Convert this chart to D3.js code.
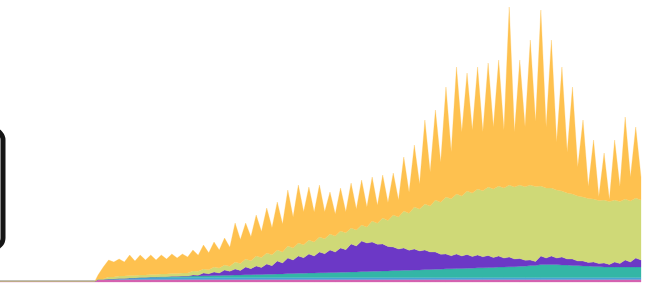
<!DOCTYPE html>
<html>
<head>
<meta charset="utf-8">
<script src="https://cdn.jsdelivr.net/npm/d3@7"></script>
<style>
	body { margin: 0; background: #fff; overflow: hidden; }
	svg { display: block; filter: blur(0.6px); }
</style>
</head>
<body>
<div id="chart"></div>
<script>

// weekly series, one value per week; orange and purple also have a mid-week (weekend) value
var weekIndex = d3.range(52)
var leadWeeks = [-9.3, -0.3]
var leadPink = 0.8

var pink = [2.5,2.5,2.5,2.5,2.5,2.5,2.5,2.5,2.5,2.5,2.5,2.5,2.5,2.5,2.5,2.5,2.5,2.5,2.5,2.5,2.5,2.5,2.5,2.5,2.5,2.5,
	2.5,2.5,2.5,2.5,2.5,2.5,2.5,2.5,2.5,2.5,2.5,2.5,2.5,2.5,2.5,2.5,2.5,2.5,2.5,2.5,2.5,2.5,2.5,2.5,2.5,2.5]
var blue = [0,0.5,1,1.5,2,2,2,2,2,2,2,2,2,2,2,2,2,2,2,2,2,2,2,2,2,2,
	2,2,2,2,2,2,2,2,2,2,2,2,2,2,2,2,2,2,2,2,2,2,2,2,2,2]
var teal = [0,0,0,0,0,0.5,0.8,1,1.2,1.5,1.7,2,2.2,2.5,2.8,3,3.3,3.6,4,4.3,4.5,4.8,5,5.3,5.6,6,
	6.3,6.6,7,7.3,7.6,8,8.3,8.7,9,9.3,9.7,10,10.4,10.8,11.3,12,13,13,12.5,12,11.5,11,10.5,10.5,10.5,10.5]
var purple = [0,0,0,0,0,0,0,0.2,0.3,1,2.8,3.5,5.3,6,7.7,8.5,10.2,12.9,15.5,17.2,19,20.7,22.5,24.2,27.9,30.5,
	29.2,26.9,23.5,22.2,20.9,19.5,17.2,14.8,14.5,13.7,12.8,12,11.1,9.7,7.7,5.5,8.5,8.5,8,6.5,5,4.5,4,5,7,9]
var purpleLow = [0,0,0,0,0,0,0,0.2,0.3,0.8,2,2.5,4,4.5,6,7,8.5,11,13.5,15.5,17,19,20.5,22.5,26,28.5,
	27,24.5,21.5,20,19,17.5,15,13,12.5,11.7,11,10,9,7.7,6,4,6.5,6.5,6,4.5,3.5,3,2.5,3.5,5,7]
var green = [0.5,2,2.5,2.5,2.5,2.5,2.7,2.8,3,4,4,5,5,7,8,10,11,11,12,13,14,15,16,17,16,16,
	21,26,32,37,42,46,52,57,60,63.5,66,68.5,70,72,73.5,75,70,68,66,65,64,63,63,62,61,60]
var orangeHigh = [4,17,17,20.5,20,19.5,19,19.5,19,21,24,25,27,39,36,41,45,48,56,58,53,52,42,43,45,45,
	44,43,42,54,62,84,90,110,127,118,122,124,126,178,125,145,176,148,124,107,77,59,47,60,82,71]
var orangeLow = [12,15,14,14.5,15,14.5,15,15.5,16,16,17,18,19,24,24,26,27,28,31,33,30,27,22,21,21,20,
	18,18,17,21,25,34,40,47,64,63,59,62,58,55,60,65,61,48,41,29,12,4,2,15,24,23]

var keys = ['pink', 'blue', 'teal', 'purple', 'green', 'orange']
var colors = {
	'pink' : '#d462b0',
	'blue' : '#45a3d6',
	'teal' : '#33b6a6',
	'purple' : '#6c38c6',
	'green' : '#cfd977',
	'orange' : '#fec14f'
}

var W = 649
var H = 283

var rows = []
leadWeeks.forEach(function(t) {
	rows.push({ t: t, pink: leadPink, blue: 0, teal: 0, purple: 0, green: 0, orange: 0 })
})
weekIndex.forEach(function(w, i) {
	rows.push({ t: w, pink: pink[i], blue: blue[i], teal: teal[i], purple: purple[i], green: green[i], orange: orangeHigh[i] })
	rows.push({ t: w + 0.5, pink: pink[i], blue: blue[i], teal: teal[i], purple: purpleLow[i], green: green[i], orange: orangeLow[i] })
})

var xScale = d3.scaleLinear()
	.domain([leadWeeks[0], weekIndex[weekIndex.length - 1] + 0.5])
	.range([0, 641])

var yScale = d3.scaleLinear()
	.domain([0, 282])
	.range([282, 0])

var stacked = d3.stack().keys(keys)(rows)

var area = d3.area()
	.x(function(d) { return xScale(d.data.t) })
	.y0(function(d) { return yScale(d[0]) })
	.y1(function(d) { return yScale(d[1]) })

var svg = d3.select('#chart')
	.append('svg')
	.attr('width', W)
	.attr('height', H)

svg.append('g')
	.attr('class', 'layers')
	.selectAll('path')
	.data(stacked)
	.enter()
	.append('path')
	.attr('d', area)
	.attr('fill', function(d) { return colors[d.key] })
	.attr('stroke', function(d) { return colors[d.key] })
	.attr('stroke-width', 0.3)

// rounded frame cut off at the left edge
svg.append('rect')
	.attr('x', -40)
	.attr('y', 130)
	.attr('width', 43)
	.attr('height', 118)
	.attr('rx', 10)
	.attr('fill', 'none')
	.attr('stroke', '#151515')
	.attr('stroke-width', 5)

</script>
</body>
</html>
